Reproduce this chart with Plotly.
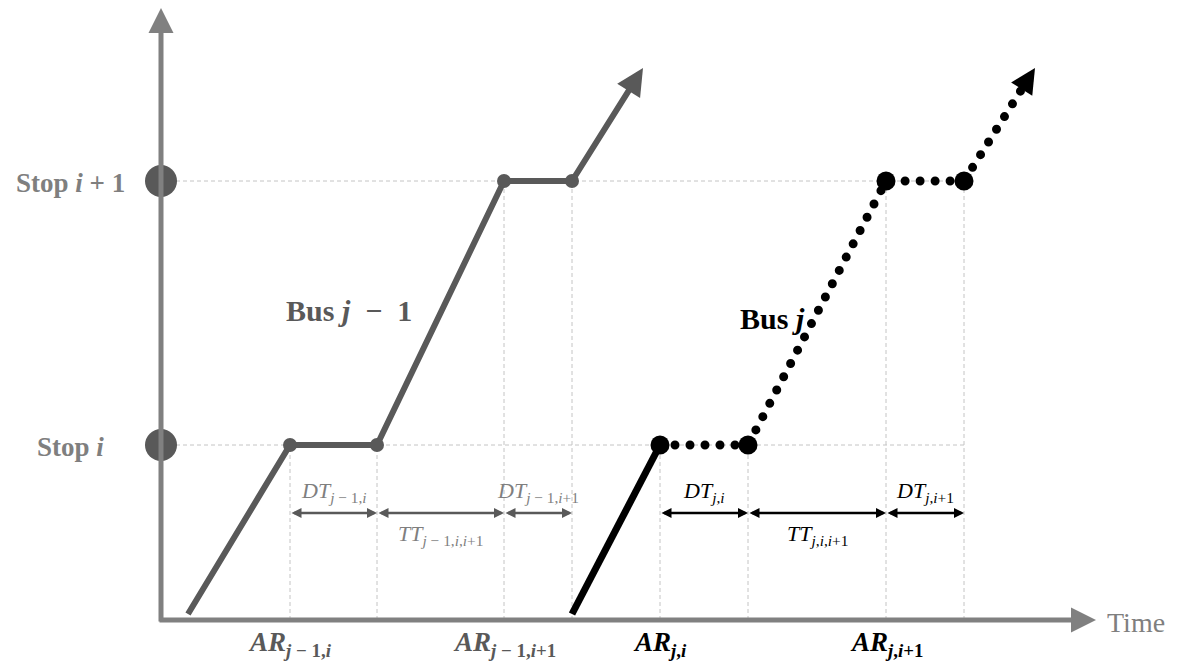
import plotly.graph_objects as go

# ---- data -------------------------------------------------------------
# Position of the two stops along the route
stop_pos = [175, 439]
stop_labels = ["<b>Stop <i>i</i></b>", "<b>Stop <i>i</i> + 1</b>"]

# Bus j-1: time / position of its trajectory (start, AR_i, DT_i, AR_i+1, DT_i+1, beyond)
prev_time = [27, 129, 216, 343, 411, 482]
prev_pos = [6, 175, 175, 439, 439, 552]

# Bus j trajectory
cur_time = [411, 499, 587, 725, 803, 874]
cur_pos = [6, 175, 175, 439, 439, 552]

NB = "\u00a0"
# Arrival-time labels on the time axis
prev_ar_labels = [f"<b><i>AR</i><sub><i>j</i>{NB}−{NB}1,<i>i</i></sub></b>",
                  f"<b><i>AR</i><sub><i>j</i>{NB}−{NB}1,<i>i</i>+1</sub></b>"]
cur_ar_labels = ["<b><i>AR</i><sub><i>j</i>,<i>i</i></sub></b>",
                 "<b><i>AR</i><sub><i>j</i>,<i>i</i>+1</sub></b>"]

# Dwell / travel interval labels
prev_int_labels = [f"<i>DT</i><sub><i>j</i>{NB}−{NB}1,<i>i</i></sub>",
                   f"<i>TT</i><sub><i>j</i>{NB}−{NB}1,<i>i</i>,<i>i</i>+1</sub>",
                   f"<i>DT</i><sub><i>j</i>{NB}−{NB}1,<i>i</i>+1</sub>"]
cur_int_labels = ["<i>DT</i><sub><i>j</i>,<i>i</i></sub>",
                  "<i>TT</i><sub><i>j</i>,<i>i</i>,<i>i</i>+1</sub>",
                  "<i>DT</i><sub><i>j</i>,<i>i</i>+1</sub>"]

# ---- styles -------------------------------------------------------------
FONT = "Liberation Serif"
AXIS_GREY = "#808080"
BUS1 = "#595959"
TEXT_GREY = "#7f7f7f"
GRID = "#c4c4c4"

X_RANGE = [-161, 1016]
Y_RANGE = [-43, 620]
INTERVAL_Y = 107
DT_LABEL_Y = 128
TT_LABEL_Y = 85
AR_LABEL_Y = -24
GRID_END = 805
STOP_LABEL_X = -91

fig = go.Figure()
shapes = []
ann = []

# dashed guide lines at the stops
for p in stop_pos:
    shapes.append(dict(type="line", xref="x", yref="y", x0=15, x1=GRID_END, y0=p, y1=p,
                       line=dict(color=GRID, width=1, dash="4px,3px"), layer="below"))
# dashed guide lines at every arrival / departure
for t, p in zip(prev_time[1:5] + cur_time[1:5], prev_pos[1:5] + cur_pos[1:5]):
    shapes.append(dict(type="line", xref="x", yref="y", x0=t, x1=t, y0=0, y1=p,
                       line=dict(color=GRID, width=1, dash="4px,3px"), layer="below"))

# axes drawn as arrows
ann.append(dict(x=935, y=0, ax=-3, ay=0, axref="x", ayref="y", xref="x", yref="y",
                text="", showarrow=True, arrowhead=2, arrowsize=1, arrowwidth=5,
                arrowcolor=AXIS_GREY))
ann.append(dict(x=0, y=612, ax=0, ay=-3, axref="x", ayref="y", xref="x", yref="y",
                text="", showarrow=True, arrowhead=2, arrowsize=1, arrowwidth=5,
                arrowcolor=AXIS_GREY))
ann.append(dict(x=944, y=-2, xref="x", yref="y", text="Time", showarrow=False,
                xanchor="left", yanchor="middle",
                font=dict(family=FONT, size=28, color=TEXT_GREY)))

# stop markers on the distance axis
fig.add_trace(go.Scatter(x=[0] * len(stop_pos), y=stop_pos, mode="markers",
                         marker=dict(size=32, color=BUS1), hoverinfo="skip",
                         showlegend=False))
for p, lab in zip(stop_pos, stop_labels):
    ann.append(dict(x=STOP_LABEL_X, y=p, xref="x", yref="y", text=lab, showarrow=False,
                    xanchor="center", yanchor="middle", yshift=-2,
                    font=dict(family=FONT, size=27, color=TEXT_GREY)))

# ---- Bus j-1 ------------------------------------------------------------
fig.add_trace(go.Scatter(x=prev_time[:5], y=prev_pos[:5], mode="lines",
                         line=dict(color=BUS1, width=6), hoverinfo="skip",
                         showlegend=False))
fig.add_trace(go.Scatter(x=prev_time[1:5], y=prev_pos[1:5], mode="markers",
                         marker=dict(size=14, color=BUS1), hoverinfo="skip",
                         showlegend=False))
ann.append(dict(x=prev_time[5], y=prev_pos[5], ax=prev_time[4], ay=prev_pos[4],
                axref="x", ayref="y", xref="x", yref="y", text="", showarrow=True,
                arrowhead=2, arrowsize=0.9, arrowwidth=6, arrowcolor=BUS1))
ann.append(dict(x=188, y=310, xref="x", yref="y",
                text=f"<b>Bus <i>j</i>{NB}{NB}−{NB}{NB}1</b>",
                showarrow=False, font=dict(family=FONT, size=30, color=BUS1)))

# ---- Bus j --------------------------------------------------------------
fig.add_trace(go.Scatter(x=cur_time[:2], y=cur_pos[:2], mode="lines",
                         line=dict(color="black", width=7), hoverinfo="skip",
                         showlegend=False))
fig.add_trace(go.Scatter(x=cur_time[1:], y=cur_pos[1:], mode="lines",
                         line=dict(color="black", width=9, dash="0px,15px"),
                         hoverinfo="skip", showlegend=False))
fig.add_trace(go.Scatter(x=cur_time[1:5], y=cur_pos[1:5], mode="markers",
                         marker=dict(size=19, color="black"), hoverinfo="skip",
                         showlegend=False))
# arrow head at the end of the dotted trajectory (short shaft hidden under the head)
dx = cur_time[5] - cur_time[4]
dy = cur_pos[5] - cur_pos[4]
norm = (dx ** 2 + dy ** 2) ** 0.5
ann.append(dict(x=cur_time[5], y=cur_pos[5],
                ax=cur_time[5] - 24 * dx / norm, ay=cur_pos[5] - 24 * dy / norm,
                axref="x", ayref="y", xref="x", yref="y", text="", showarrow=True,
                arrowhead=2, arrowsize=1, arrowwidth=5, arrowcolor="black"))
ann.append(dict(x=611, y=302, xref="x", yref="y", text="<b>Bus <i>j</i></b>",
                showarrow=False, font=dict(family=FONT, size=30, color="black")))

# ---- interval arrows and labels ----------------------------------------
def intervals(times, labels, arrow_col, text_col):
    for k in range(3):
        a, b = times[1 + k], times[2 + k]
        ann.append(dict(x=b, y=INTERVAL_Y, ax=a, ay=INTERVAL_Y, axref="x", ayref="y",
                        xref="x", yref="y", text="", showarrow=True,
                        arrowhead=2, startarrowhead=2, arrowside="end+start",
                        arrowsize=0.8, startarrowsize=0.8, arrowwidth=2.5,
                        arrowcolor=arrow_col))
        ly = TT_LABEL_Y if k == 1 else DT_LABEL_Y
        ann.append(dict(x=(a + b) / 2, y=ly, xref="x", yref="y", text=labels[k],
                        showarrow=False, font=dict(family=FONT, size=22, color=text_col)))

intervals(prev_time, prev_int_labels, BUS1, TEXT_GREY)
intervals(cur_time, cur_int_labels, "black", "black")

# arrival labels under the time axis
for t, lab in zip([prev_time[1], prev_time[3]], prev_ar_labels):
    ann.append(dict(x=t, y=AR_LABEL_Y, xref="x", yref="y", text=lab, showarrow=False,
                    font=dict(family=FONT, size=27, color=BUS1)))
for t, lab in zip([cur_time[1], cur_time[3]], cur_ar_labels):
    ann.append(dict(x=t, y=AR_LABEL_Y, xref="x", yref="y", text=lab, showarrow=False,
                    font=dict(family=FONT, size=27, color="black")))

fig.update_layout(
    width=1177, height=663, margin=dict(l=0, r=0, t=0, b=0),
    paper_bgcolor="white", plot_bgcolor="white",
    xaxis=dict(range=X_RANGE, visible=False, fixedrange=True),
    yaxis=dict(range=Y_RANGE, visible=False, fixedrange=True),
    shapes=shapes, annotations=ann, showlegend=False,
)

# round caps turn the dotted dash pattern into round dots
post = """
var gd = document.getElementById('{plot_id}');
function roundDots() {
  gd.querySelectorAll('path.js-line').forEach(function (p) {
    var d = p.style.strokeDasharray || p.getAttribute('stroke-dasharray') || '';
    if (d.indexOf('15') >= 0) { p.style.strokeLinecap = 'round'; }
  });
}
roundDots();
gd.on('plotly_afterplot', roundDots);
"""

fig.write_html("out.html", config={"displayModeBar": False, "staticPlot": True},
               post_script=post)
